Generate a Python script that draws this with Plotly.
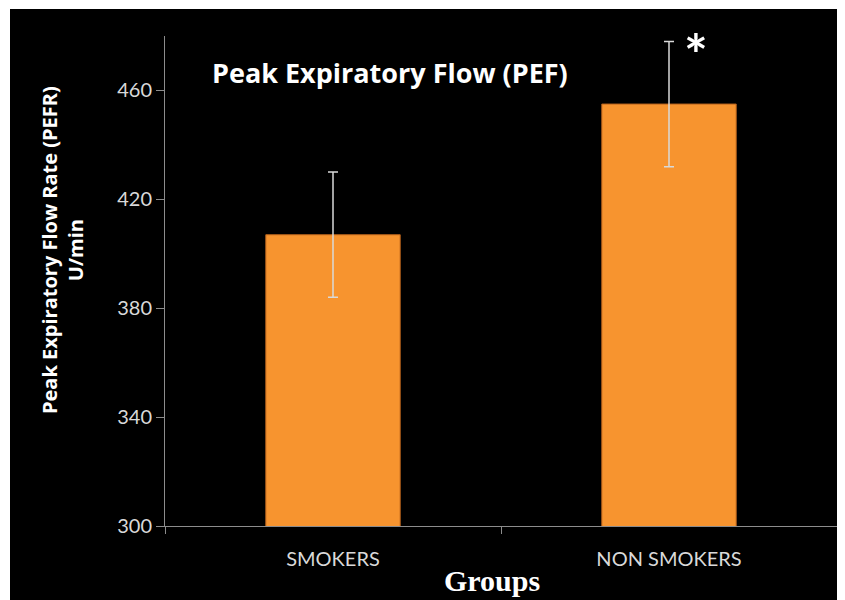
import plotly.graph_objects as go

categories = ["SMOKERS", "NON SMOKERS"]
pefr_mean = [407, 455]
pefr_err = [23, 23]
y_ticks = [300, 340, 380, 420, 460]

# page has an 8px body margin; figure placed at (8, 8)
OFF = 8
W, H = 837, 592
L, R, T, B = 157, 8, 28, 74
pw, ph = W - L - R, H - T - B

def px(x):
    return (x - OFF - L) / pw

def py(y):
    return (H - B - (y - OFF)) / ph

fig = go.Figure()
fig.add_trace(go.Bar(
    x=categories, y=pefr_mean,
    marker=dict(color="#F7942F", line=dict(color="#B8621C", width=1)),
    error_y=dict(type="data", array=pefr_err, visible=True,
                 color="#D9D9D9", thickness=1.5, width=5),
    width=0.4,
))

fig.update_layout(
    width=W, height=H,
    margin=dict(l=L, r=R, t=T, b=B),
    paper_bgcolor="black", plot_bgcolor="black",
    showlegend=False,
    xaxis=dict(
        showline=True, linecolor="#8C8C8C", linewidth=1,
        ticks="outside", tickson="boundaries", ticklen=7, tickcolor="#8C8C8C",
        tickfont=dict(family="Lato", size=20, color="#D9D9D9"),
        ticklabelstandoff=15,
        showgrid=False, zeroline=False,
    ),
    yaxis=dict(
        range=[300, 480], tickvals=y_ticks,
        showline=True, linecolor="#8C8C8C", linewidth=1,
        ticks="outside", ticklen=8, tickcolor="#8C8C8C",
        tickfont=dict(family="Lato", size=20, color="#D9D9D9"),
        showgrid=False, zeroline=False,
    ),
    shapes=[
        dict(type="rect", xref="paper", yref="paper", x0=px(8), x1=px(10), y0=py(600), y1=py(8),
             fillcolor="white", line=dict(width=0), layer="above"),
        dict(type="rect", xref="paper", yref="paper", x0=px(8), x1=px(845), y0=py(9), y1=py(8),
             fillcolor="white", line=dict(width=0), layer="above"),
    ],
    annotations=[
        dict(text="<b>Peak Expiratory Flow (PEF)</b>", xref="paper", yref="paper",
             x=px(390), y=py(72), xanchor="center", yanchor="middle", showarrow=False,
             font=dict(family="Open Sans", size=27, color="white")),
        dict(text="<b>Peak Expiratory Flow Rate (PEFR)<br>U/min</b>", xref="paper", yref="paper",
             x=px(62), y=py(250), xanchor="center", yanchor="middle", showarrow=False,
             textangle=-90, font=dict(family="Open Sans", size=20, color="white")),
        dict(text="<b>Groups</b>", xref="paper", yref="paper",
             x=px(492), y=py(580), xanchor="center", yanchor="middle", showarrow=False,
             font=dict(family="Liberation Serif", size=30, color="white")),
        dict(text="<b>*</b>", xref="x", yref="y",
             x=categories[1], y=pefr_mean[1] + pefr_err[1], xshift=27, yshift=-12,
             xanchor="center", yanchor="middle", showarrow=False,
             font=dict(family="Lato", size=56, color="white")),
    ],
)

fig.write_html("out.html")
